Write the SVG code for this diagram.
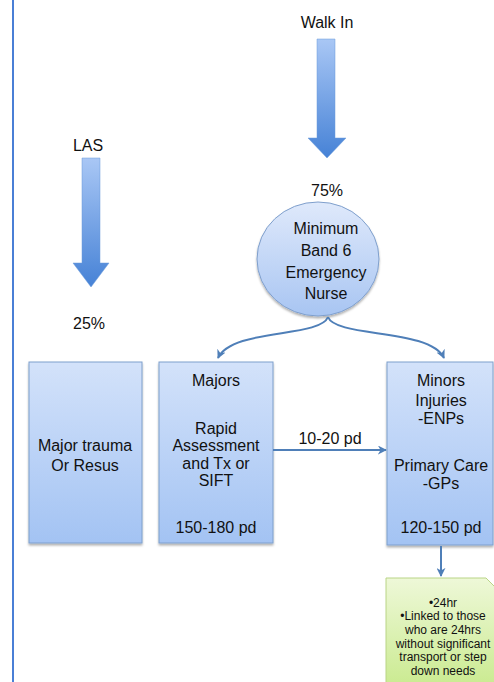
<svg xmlns="http://www.w3.org/2000/svg" width="494" height="682" viewBox="0 0 494 682">
<defs>
<linearGradient id="gBox" x1="0" y1="0" x2="0" y2="1">
<stop offset="0" stop-color="#d3e2fa"/>
<stop offset="1" stop-color="#a3c3f3"/>
</linearGradient>
<linearGradient id="gEll" x1="0" y1="0" x2="0" y2="1">
<stop offset="0" stop-color="#dfe9fb"/>
<stop offset="1" stop-color="#a8c5f2"/>
</linearGradient>
<linearGradient id="gArr" x1="0" y1="0" x2="0" y2="1">
<stop offset="0" stop-color="#a9c7f5"/>
<stop offset="1" stop-color="#4682d6"/>
</linearGradient>
<linearGradient id="gNote" x1="0" y1="0" x2="0" y2="1">
<stop offset="0" stop-color="#eef8d8"/>
<stop offset="1" stop-color="#c9ea8e"/>
</linearGradient>
<marker id="ah" viewBox="0 0 10 10" refX="9" refY="5" markerWidth="4.5" markerHeight="4.5" orient="auto" markerUnits="strokeWidth">
<path d="M0,0 L10,5 L0,10 L3,5 Z" fill="#4f7fb8"/>
</marker>
<filter id="sh" x="-10%" y="-10%" width="120%" height="120%">
<feDropShadow dx="0" dy="2" stdDeviation="1.2" flood-color="#000" flood-opacity="0.3"/>
</filter>
</defs>
<style>
text{font-family:"Liberation Sans",Arial,sans-serif;font-size:16px;fill:#111;text-anchor:middle}
.note{font-size:12px}
.box{fill:url(#gBox);stroke:#7f9fcc;stroke-width:1;filter:url(#sh)}
.arr{fill:url(#gArr);stroke:#6b9ad8;stroke-width:0.5}
.con{fill:none;stroke:#4f7fb8;stroke-width:2}
</style>
<rect width="494" height="682" fill="#fff"/>
<line x1="13" y1="0" x2="13" y2="682" stroke="#4a7fd6" stroke-width="2"/>

<g id="walkin">
<text x="327" y="28">Walk In</text>
<path class="arr" d="M317,39 H335 V138 H346 L327,158 L308,138 H317 Z"/>
<text x="327" y="196">75%</text>
</g>

<g id="las">
<text x="88" y="151">LAS</text>
<path class="arr" d="M82,158 H100 V263 H109 L91,287 L73,263 H82 Z"/>
<text x="89" y="329">25%</text>
</g>

<g id="nurse">
<ellipse cx="318" cy="259" rx="61" ry="57" fill="url(#gEll)" stroke="#7f9fcc" stroke-width="1" filter="url(#sh)"/>
<text x="326" y="234">Minimum</text>
<text x="326" y="256">Band 6</text>
<text x="326" y="278">Emergency</text>
<text x="326" y="299">Nurse</text>
</g>

<g id="trauma">
<rect class="box" x="29" y="362" width="113" height="181"/>
<text x="85" y="451">Major trauma</text>
<text x="85" y="471">Or Resus</text>
</g>

<g id="majors">
<rect class="box" x="159" y="362" width="114" height="181"/>
<text x="216" y="386">Majors</text>
<text x="216" y="434">Rapid</text>
<text x="216" y="451">Assessment</text>
<text x="216" y="469">and Tx or</text>
<text x="216" y="486">SIFT</text>
<text x="216" y="533">150-180 pd</text>
</g>

<g id="minors">
<rect class="box" x="387" y="362" width="106" height="183"/>
<text x="441" y="386">Minors</text>
<text x="441" y="406">Injuries</text>
<text x="441" y="424">-ENPs</text>
<text x="441" y="471">Primary Care</text>
<text x="441" y="489">-GPs</text>
<text x="441" y="533">120-150 pd</text>
</g>

<g id="note">
<path d="M386,578 H486 L495,587 V690 H386 Z" fill="url(#gNote)" stroke="#b9d486" stroke-width="1"/>
<text class="note" x="443" y="607">•24hr</text>
<text class="note" x="443" y="620">•Linked to those</text>
<text class="note" x="443" y="634">who are 24hrs</text>
<text class="note" x="443" y="648">without significant</text>
<text class="note" x="443" y="661">transport or step</text>
<text class="note" x="443" y="675">down needs</text>
</g>

<g id="connectors">
<path class="con" d="M328,317 C320,338 232,328 218,358" marker-end="url(#ah)"/>
<path class="con" d="M328,317 C336,338 430,328 444,358" marker-end="url(#ah)"/>
<line class="con" x1="273" y1="450" x2="386" y2="450" marker-end="url(#ah)"/>
<text x="330" y="444">10-20 pd</text>
<line class="con" x1="441" y1="546" x2="441" y2="576" marker-end="url(#ah)"/>
</g>
</svg>
